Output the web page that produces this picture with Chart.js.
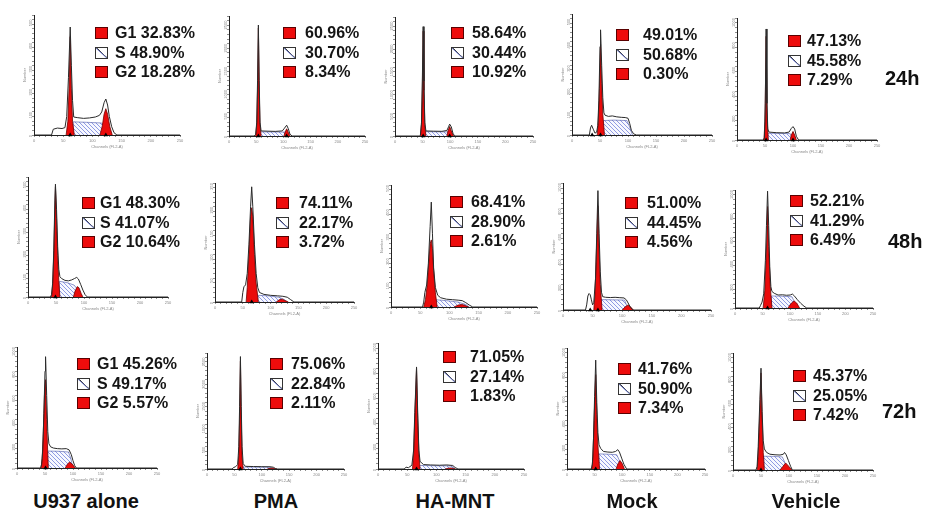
<!DOCTYPE html>
<html><head><meta charset="utf-8">
<script src="https://cdn.jsdelivr.net/npm/chart.js@4.4.0/dist/chart.umd.min.js"></script>
<style>
body{margin:0;background:#fff;}
#fig{position:relative;width:930px;height:516px;overflow:hidden;background:#fff;font-family:"Liberation Sans",Arial,sans-serif;}
.panel{position:absolute;}
.sq{position:absolute;width:11px;height:10px;border:1px solid #5a0000;background:#ee0c0c;}
.sqs{position:absolute;width:11px;height:10px;border:1px solid #333;background:linear-gradient(to bottom left,#fff 44%,#333 46%,#8390dd 52%,#fff 56%);}
.lt{position:absolute;font-weight:bold;font-size:16px;line-height:18px;color:#151515;white-space:nowrap;}
.tl{position:absolute;font-weight:bold;font-size:20px;line-height:22px;color:#111;white-space:nowrap;}
.gl{position:absolute;font-weight:bold;font-size:20px;line-height:22px;color:#111;white-space:nowrap;transform:translateX(-50%);}
</style></head><body><div id="fig"></div>
<script>
// ---------- categories / labels ----------
const groups = ['U937 alone','PMA','HA-MNT','Mock','Vehicle'];
const times = ['24h','48h','72h'];
const phaseNames = ['G1','S','G2'];

// ---------- phase percentages (per time point, per group) ----------
const G1_24h = [32.83, 60.96, 58.64, 49.01, 47.13];
const S_24h  = [48.90, 30.70, 30.44, 50.68, 45.58];
const G2_24h = [18.28, 8.34, 10.92, 0.30, 7.29];
const G1_48h = [48.30, 74.11, 68.41, 51.00, 52.21];
const S_48h  = [41.07, 22.17, 28.90, 44.45, 41.29];
const G2_48h = [10.64, 3.72, 2.61, 4.56, 6.49];
const G1_72h = [45.26, 75.06, 71.05, 41.76, 45.37];
const S_72h  = [49.17, 22.84, 27.14, 50.90, 25.05];
const G2_72h = [5.57, 2.11, 1.83, 7.34, 7.42];

// ---------- axis ranges (Number axis max and major tick) ----------
const xTickLabels = [0, 50, 100, 150, 200, 250];
const yMax_24h = [520, 2600, 2600, 520, 1000];
const yMajor_24h = [100, 500, 500, 100, 200];
const yMax_48h = [520, 250, 500, 1000, 1000];
const yMajor_48h = [100, 50, 100, 200, 200];
const yMax_72h = [1000, 2600, 1000, 1000, 1000];
const yMajor_72h = [200, 500, 200, 200, 200];

// ---------- histograms: [channel, count] ----------
// 24h
const U937_24h_outline = [[0,0],[30,0],[33,25],[40,30],[48,28],[53,32],[56,80],[59,250],[62,468],[64,300],[66,150],[68,78],[75,75],[85,72],[95,74],[105,78],[112,85],[116,100],[120,140],[123,156],[126,130],[129,80],[133,36],[137,10],[142,0],[250,0]];
const U937_24h_G1 = [[55,0],[58,60],[60,200],[62,426],[64,200],[66,60],[69,0]];
const U937_24h_S  = [[67,0],[67,57],[90,55],[116,52],[122,30],[128,0]];
const U937_24h_G2 = [[113,0],[117,40],[120,90],[123,114],[126,90],[130,35],[134,0]];
const U937_24h_marks = [62,123];

const PMA_24h_outline = [[0,0],[46,0],[49,30],[51,300],[52.5,1200],[54,2405],[55.5,1200],[57,300],[59,110],[70,105],[85,100],[98,110],[102,170],[106,234],[109,160],[112,40],[116,0],[250,0]];
const PMA_24h_G1 = [[49,0],[51,250],[52.5,1000],[54,2340],[55.5,1000],[57,250],[59,0]];
const PMA_24h_S  = [[57,0],[57,90],[80,88],[103,85],[108,0]];
const PMA_24h_G2 = [[101,0],[103,80],[106,156],[109,80],[112,0]];
const PMA_24h_marks = [54,106];

const HAMNT_24h_outline = [[0,0],[44,0],[46,20],[48,300],[49.5,1200],[51,2390],[52.5,1200],[54,300],[56,110],[70,105],[85,102],[94,120],[97,200],[99,260],[102,200],[105,60],[108,0],[250,0]];
const HAMNT_24h_G1 = [[46,0],[48,250],[49.5,1000],[51,2290],[52.5,1000],[54,250],[56,0]];
const HAMNT_24h_S  = [[55,0],[55,95],[75,92],[96,90],[100,0]];
const HAMNT_24h_G2 = [[94,0],[96,110],[99,208],[102,110],[106,0]];
const HAMNT_24h_marks = [51,99];

const Mock_24h_outline = [[0,0],[31,0],[33,30],[35,42],[38,25],[41,8],[44,12],[46,40],[48,150],[50,380],[51,452],[53,300],[55,160],[57,95],[59,85],[65,80],[72,82],[80,78],[88,76],[95,75],[100,72],[103,50],[106,20],[110,5],[115,0],[250,0]];
const Mock_24h_G1 = [[45,0],[47,60],[49,200],[51,390],[53,220],[55,90],[58,0]];
const Mock_24h_S  = [[56,0],[56,62],[75,64],[98,62],[102,40],[108,0]];
const Mock_24h_G2 = [];
const Mock_24h_marks = [36,51];

const Vehicle_24h_outline = [[0,0],[47,0],[49,20],[50.5,300],[52,910],[53.5,300],[55,90],[57,65],[70,60],[85,58],[93,65],[97,95],[100,110],[103,90],[106,30],[110,0],[250,0]];
const Vehicle_24h_G1 = [[48,0],[50,150],[52,850],[54,150],[56,0]];
const Vehicle_24h_S  = [[55,0],[55,55],[75,54],[95,52],[99,0]];
const Vehicle_24h_G2 = [[95,0],[97,40],[100,70],[103,40],[106,0]];
const Vehicle_24h_marks = [52,100];

// 48h
const U937_48h_outline = [[0,0],[40,0],[42,10],[44,60],[46,200],[48,420],[49,489],[51,380],[53,220],[55,120],[57,88],[60,80],[66,72],[72,70],[78,74],[83,80],[87,85],[90,78],[94,55],[98,30],[102,10],[106,0],[250,0]];
const U937_48h_G1 = [[42,0],[44,50],[46,180],[49,478],[51,340],[53,180],[55,70],[57,0]];
const U937_48h_S  = [[56,0],[56,68],[70,62],[82,52],[88,35],[92,0]];
const U937_48h_G2 = [[81,0],[84,25],[88,45],[91,40],[95,15],[98,0]];
const U937_48h_marks = [49];

const PMA_48h_outline = [[0,0],[48,0],[50,20],[52,32],[55,36],[58,60],[61,120],[64,200],[66,242],[68,200],[71,120],[74,60],[77,30],[80,20],[88,16],[100,14],[112,13],[122,12],[130,10],[136,5],[142,0],[250,0]];
const PMA_48h_G1 = [[56,0],[58,30],[61,100],[64,180],[66,198],[68,180],[71,100],[74,40],[78,0]];
const PMA_48h_S  = [[77,0],[77,14],[95,13],[115,10],[125,5],[130,0]];
const PMA_48h_G2 = [[110,0],[116,5],[121,6],[126,3],[132,0]];
const PMA_48h_marks = [66];

const HAMNT_48h_outline = [[0,0],[54,0],[56,20],[58,60],[61,90],[64,180],[67,330],[69,430],[71,300],[73,160],[76,80],[80,48],[85,38],[95,32],[105,30],[115,28],[122,26],[128,18],[134,8],[140,0],[250,0]];
const HAMNT_48h_G1 = [[56,0],[59,30],[62,90],[65,190],[67,260],[69,275],[71,240],[73,150],[76,60],[79,0]];
const HAMNT_48h_S  = [[76,0],[76,30],[95,26],[115,20],[128,10],[134,0]];
const HAMNT_48h_G2 = [[108,0],[115,8],[122,10],[128,5],[133,0]];
const HAMNT_48h_marks = [69];

const Mock_48h_outline = [[0,0],[38,0],[40,40],[42,110],[44,130],[46,120],[48,80],[50,40],[52,60],[55,250],[57,600],[59,940],[61,600],[63,300],[65,140],[67,105],[72,100],[80,98],[88,100],[96,97],[103,95],[107,80],[110,55],[114,20],[118,0],[250,0]];
const Mock_48h_G1 = [[52,0],[54,120],[56,400],[59,820],[61,480],[63,200],[66,0]];
const Mock_48h_S  = [[64,0],[64,82],[84,80],[104,78],[108,30],[110,0]];
const Mock_48h_G2 = [[100,0],[105,25],[110,40],[114,25],[119,0]];
const Mock_48h_marks = [46,59];

const Vehicle_48h_outline = [[0,0],[44,0],[46,20],[49,50],[52,120],[55,400],[57,700],[59,990],[61,700],[63,350],[65,180],[67,140],[71,125],[78,110],[86,112],[93,108],[100,110],[104,118],[108,100],[113,70],[119,40],[125,15],[130,0],[250,0]];
const Vehicle_48h_G1 = [[51,0],[54,150],[57,500],[59,860],[61,520],[64,180],[67,0]];
const Vehicle_48h_S  = [[66,0],[66,102],[85,100],[103,95],[108,50],[112,0]];
const Vehicle_48h_G2 = [[96,0],[101,35],[107,60],[112,40],[117,0]];
const Vehicle_48h_marks = [59];

// 72h
const U937_72h_outline = [[0,0],[42,0],[44,30],[46,150],[48,450],[50,800],[51,920],[53,600],[55,300],[57,200],[60,175],[65,165],[72,160],[80,158],[88,160],[93,150],[97,110],[100,60],[103,20],[106,0],[250,0]];
const U937_72h_G1 = [[43,0],[45,80],[47,300],[49,600],[51,730],[53,400],[55,100],[56,0]];
const U937_72h_S  = [[55,0],[55,140],[75,138],[92,132],[96,80],[100,0]];
const U937_72h_G2 = [[86,0],[90,30],[94,50],[99,30],[104,0]];
const U937_72h_marks = [51];

const PMA_72h_outline = [[0,0],[46,0],[48,30],[52,50],[56,100],[58,500],[59.5,1400],[61,2520],[62.5,1400],[64,500],[66,120],[70,60],[85,55],[100,52],[115,50],[121,40],[125,10],[128,0],[250,0]];
const PMA_72h_G1 = [[56,0],[58,300],[59.5,1100],[61,2420],[62.5,1100],[64,300],[66,0]];
const PMA_72h_S  = [[65,0],[65,45],[90,42],[115,40],[122,0]];
const PMA_72h_G2 = [[110,0],[115,15],[120,18],[124,8],[128,0]];
const PMA_72h_marks = [61];

const HAMNT_72h_outline = [[0,0],[45,0],[48,15],[52,10],[58,30],[61,150],[63,450],[66,810],[68,450],[70,150],[72,60],[78,35],[90,32],[105,30],[118,32],[128,28],[132,12],[137,0],[250,0]];
const HAMNT_72h_G1 = [[59,0],[61,120],[63,400],[66,800],[68,400],[70,120],[72,0]];
const HAMNT_72h_S  = [[71,0],[71,28],[100,26],[126,24],[132,0]];
const HAMNT_72h_G2 = [[115,0],[120,6],[125,8],[129,4],[133,0]];
const HAMNT_72h_marks = [66];

const Mock_72h_outline = [[0,0],[44,0],[46,40],[48,250],[50,600],[52,900],[54,550],[56,300],[58,200],[61,170],[66,145],[74,140],[82,138],[88,145],[92,160],[95,140],[99,90],[103,40],[108,0],[250,0]];
const Mock_72h_G1 = [[45,0],[47,100],[49,400],[52,780],[54,450],[56,200],[59,0]];
const Mock_72h_S  = [[58,0],[58,125],[75,122],[90,118],[95,70],[100,0]];
const Mock_72h_G2 = [[89,0],[92,40],[96,70],[100,45],[104,0]];
const Mock_72h_marks = [52];

const Vehicle_72h_outline = [[0,0],[41,0],[43,30],[45,200],[48,600],[50,870],[52,500],[54,250],[56,180],[60,150],[66,135],[75,130],[84,128],[90,135],[92,150],[95,130],[99,80],[103,30],[106,0],[250,0]];
const Vehicle_72h_G1 = [[43,0],[45,120],[48,500],[50,830],[52,450],[54,150],[56,0]];
const Vehicle_72h_S  = [[55,0],[55,118],[72,116],[88,112],[93,60],[97,0]];
const Vehicle_72h_G2 = [[84,0],[89,30],[94,60],[99,35],[105,0]];
const Vehicle_72h_marks = [50];

// ---------- layout (pixel positions of plot areas: left, top, right, bottom) ----------
const plotBox = [
  [[34,15,180,135],[229,16,365,136],[395,17,533,136],[572,14,712,135],[737,18,877,140]],
  [[28,177,168,297],[215,183,354,302],[391,185,537,307],[563,183,711,310],[735,190,873,308]],
  [[17,347,157,468],[207,353,344,469],[378,343,524,469],[567,348,705,469],[733,353,873,470]]
];
// legend: [square x, text x, first row center y]
const legendBox = [
  [[95,115,33],[283,305,33],[451,472,33],[616,643,35],[788,807,41]],
  [[82,100,203],[276,299,203],[450,471,202],[625,647,203],[790,810,201]],
  [[77,97,364],[270,291,364],[443,470,357],[618,638,369],[793,813,376]]
];
const timeLabelPos = [[885,78],[888,241],[882,411]];
const groupLabelX = [86,276,455,632,806];
const groupLabelY = 501;

// ---------- assemble ----------
const hist = {
  '24h': [
    [U937_24h_outline,U937_24h_G1,U937_24h_S,U937_24h_G2,U937_24h_marks],
    [PMA_24h_outline,PMA_24h_G1,PMA_24h_S,PMA_24h_G2,PMA_24h_marks],
    [HAMNT_24h_outline,HAMNT_24h_G1,HAMNT_24h_S,HAMNT_24h_G2,HAMNT_24h_marks],
    [Mock_24h_outline,Mock_24h_G1,Mock_24h_S,Mock_24h_G2,Mock_24h_marks],
    [Vehicle_24h_outline,Vehicle_24h_G1,Vehicle_24h_S,Vehicle_24h_G2,Vehicle_24h_marks]],
  '48h': [
    [U937_48h_outline,U937_48h_G1,U937_48h_S,U937_48h_G2,U937_48h_marks],
    [PMA_48h_outline,PMA_48h_G1,PMA_48h_S,PMA_48h_G2,PMA_48h_marks],
    [HAMNT_48h_outline,HAMNT_48h_G1,HAMNT_48h_S,HAMNT_48h_G2,HAMNT_48h_marks],
    [Mock_48h_outline,Mock_48h_G1,Mock_48h_S,Mock_48h_G2,Mock_48h_marks],
    [Vehicle_48h_outline,Vehicle_48h_G1,Vehicle_48h_S,Vehicle_48h_G2,Vehicle_48h_marks]],
  '72h': [
    [U937_72h_outline,U937_72h_G1,U937_72h_S,U937_72h_G2,U937_72h_marks],
    [PMA_72h_outline,PMA_72h_G1,PMA_72h_S,PMA_72h_G2,PMA_72h_marks],
    [HAMNT_72h_outline,HAMNT_72h_G1,HAMNT_72h_S,HAMNT_72h_G2,HAMNT_72h_marks],
    [Mock_72h_outline,Mock_72h_G1,Mock_72h_S,Mock_72h_G2,Mock_72h_marks],
    [Vehicle_72h_outline,Vehicle_72h_G1,Vehicle_72h_S,Vehicle_72h_G2,Vehicle_72h_marks]]
};
const pctRows = [[G1_24h,S_24h,G2_24h],[G1_48h,S_48h,G2_48h],[G1_72h,S_72h,G2_72h]];
const yMaxRows = [yMax_24h, yMax_48h, yMax_72h];
const yMajorRows = [yMajor_24h, yMajor_48h, yMajor_72h];

const fig = document.getElementById('fig');
const YW = 12, XH = 14, PT = 6, PR = 6;
const FONT = "'Liberation Sans', Arial, sans-serif";

function hatch(ctx){
  const c = document.createElement('canvas'); c.width = 4; c.height = 4;
  const x = c.getContext('2d');
  x.fillStyle = '#f7f8ff'; x.fillRect(0,0,4,4);
  x.strokeStyle = '#7583dc'; x.lineWidth = 0.8;
  x.beginPath(); x.moveTo(0,0); x.lineTo(4,4); x.moveTo(-2,2); x.lineTo(2,6); x.moveTo(2,-2); x.lineTo(6,2); x.stroke();
  return ctx.createPattern(c,'repeat');
}

function makePanel(r, c){
  const [L,T,R,B] = plotBox[r][c];
  const [outline,g1,s,g2,marks] = hist[times[r]][c];
  const yMax = yMaxRows[r][c], yMajor = yMajorRows[r][c];
  const cv = document.createElement('canvas');
  const w = (R-L) + YW + PR, h = (B-T) + PT + XH;
  cv.width = w; cv.height = h;
  cv.className = 'panel';
  cv.style.left = (L-YW)+'px'; cv.style.top = (T-PT)+'px';
  cv.style.width = w+'px'; cv.style.height = h+'px';
  fig.appendChild(cv);
  const ctx = cv.getContext('2d');
  const tickFont = {size:4, family:FONT};
  new Chart(cv, {
    type:'line',
    data:{datasets:[
      {data:outline, borderColor:'#2a2a2a', borderWidth:1, pointRadius:0, fill:false, order:0},
      {data:marks.map(m=>[m,0]), showLine:false, pointStyle:'triangle', pointRadius:2.6, backgroundColor:'#000', borderColor:'#000', borderWidth:0, clip:false, order:0},
      {data:g1, borderColor:'#700000', borderWidth:0.8, backgroundColor:'#ea0b0b', fill:'origin', pointRadius:0, order:1},
      {data:g2, borderColor:'#700000', borderWidth:0.8, backgroundColor:'#ea0b0b', fill:'origin', pointRadius:0, order:1},
      {data:s, borderColor:'#4a55a8', borderWidth:0.6, backgroundColor:hatch(ctx), fill:'origin', pointRadius:0, order:2}
    ]},
    options:{
      responsive:false, animation:false, events:[],
      layout:{padding:{top:PT,right:PR,left:0,bottom:0}},
      plugins:{legend:{display:false}, tooltip:{enabled:false}},
      scales:{
        x:{type:'linear', min:0, max:250,
           grid:{drawOnChartArea:false, tickLength:2, color:'#444', lineWidth:0.6},
           border:{color:'#222', width:1},
           ticks:{stepSize:10, autoSkip:false, maxRotation:0, minRotation:0, padding:1, color:'#888', font:tickFont,
                  callback:v => xTickLabels.includes(v) ? String(v) : ''},
           title:{display:true, text:'Channels (FL2-A)', color:'#888', font:tickFont, padding:0},
           afterFit:sc => { sc.height = XH; }},
        y:{type:'linear', min:0, max:yMax,
           grid:{drawOnChartArea:false, tickLength:2, color:'#444', lineWidth:0.6},
           border:{color:'#222', width:1},
           ticks:{stepSize:yMajor/5, autoSkip:false, minRotation:90, maxRotation:90, padding:1, color:'#888', font:tickFont,
                  callback:v => (v % yMajor === 0) ? String(v) : ''},
           title:{display:true, text:'Number', color:'#888', font:tickFont, padding:0},
           afterFit:sc => { sc.width = YW; }}
      }
    }
  });
}

function makeLegend(r, c){
  const [sx, tx, y0] = legendBox[r][c];
  const pcts = pctRows[r];
  for(let i=0;i<3;i++){
    const yc = y0 + i*19.5;
    const sq = document.createElement('div');
    sq.className = (i===1) ? 'sqs' : 'sq';
    sq.style.left = sx+'px'; sq.style.top = (yc-6)+'px';
    fig.appendChild(sq);
    const t = document.createElement('div');
    t.className = 'lt';
    t.style.left = tx+'px'; t.style.top = (yc-9)+'px';
    const val = pcts[i][c].toFixed(2)+'%';
    t.textContent = (c===0) ? (phaseNames[i]+' '+val) : val;
    fig.appendChild(t);
  }
}

for(let r=0;r<3;r++){
  for(let c=0;c<5;c++){ makePanel(r,c); makeLegend(r,c); }
  const tl = document.createElement('div');
  tl.className = 'tl'; tl.textContent = times[r];
  tl.style.left = timeLabelPos[r][0]+'px'; tl.style.top = (timeLabelPos[r][1]-11)+'px';
  fig.appendChild(tl);
}
for(let c=0;c<5;c++){
  const g = document.createElement('div');
  g.className = 'gl'; g.textContent = groups[c];
  g.style.left = groupLabelX[c]+'px'; g.style.top = (groupLabelY-11)+'px';
  fig.appendChild(g);
}
</script>
</body></html>
